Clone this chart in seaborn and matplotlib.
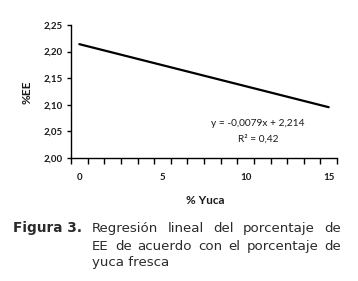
import numpy as np
import pandas as pd
import seaborn as sns
import matplotlib.pyplot as plt

# data (trendline end points)
yuca = [0, 15]
ee = [2.214, 2.0955]
y_ticks = [2.00, 2.05, 2.10, 2.15, 2.20, 2.25]
x_labels = [0, 5, 10, 15]
equation = "y = -0,0079x + 2,214"
r2 = "R² = 0,42"
caption_lines = ["Regresión lineal del porcentaje de",
                 "EE de acuerdo con el porcentaje de",
                 "yuca fresca"]

sns.set_style("ticks")
plt.rcParams['font.family'] = ['Lato', 'DejaVu Sans']

df = pd.DataFrame({'Yuca': yuca, 'EE': ee})

fig = plt.figure(figsize=(3.58, 2.81), dpi=100)
ax = fig.add_axes([71 / 358, 1 - 158 / 281, 266 / 358, 133 / 281])

sns.lineplot(data=df, x='Yuca', y='EE', ax=ax, color='black', linewidth=1.6)

ax.set_xlim(-0.5, 15.5)
ax.set_ylim(2.0, 2.25)
ax.set_yticks(y_ticks)
ax.set_yticklabels([f"{v:.2f}".replace('.', ',') for v in y_ticks],
                   fontsize=7, fontweight='bold', color='#1a1a1a')
# category style axis: tick marks between categories, labels every 5
ax.set_xticks(np.arange(-0.5, 16, 1))
ax.set_xticklabels([])
ax.set_xticks(x_labels, minor=True)
ax.set_xticklabels([str(v) for v in x_labels], minor=True,
                   fontsize=7, fontweight='bold', color='#1a1a1a')
ax.tick_params(axis='x', which='minor', length=0, pad=11)
ax.tick_params(axis='x', which='major', length=4, width=1, color='black')
ax.tick_params(axis='y', which='major', length=3, width=1, color='black', pad=3)
for s in ['left', 'bottom']:
    ax.spines[s].set_color('black')
    ax.spines[s].set_linewidth(1)
sns.despine(ax=ax)

ax.set_xlabel('')
ax.set_ylabel('')
fig.text(27 / 358, 1 - 92 / 281, '%EE', rotation=90, ha='center', va='center',
         fontsize=8.5, fontweight='bold', color='#1a1a1a')
fig.text(205 / 358, 1 - 200 / 281, '% Yuca', ha='center', va='center',
         fontsize=8.5, fontweight='bold', color='#1a1a1a')

ax.text(10.75, 2.064, equation, ha='center', va='center', fontsize=7.3, color='#1a1a1a')
ax.text(10.75, 2.036, r2, ha='center', va='center', fontsize=7.3, color='#1a1a1a')

# caption
cap_color = '#2b2b2b'
fig.text(13 / 358, 1 - 232 / 281, 'Figura 3.', ha='left', va='baseline',
         fontsize=9.8, fontweight='bold', color=cap_color, family='DejaVu Sans')
renderer = fig.canvas.get_renderer()
x0, x1 = 92, 341
ys = [232, 250, 266]
for i, line in enumerate(caption_lines):
    yf = 1 - ys[i] / 281
    words = line.split()
    if i == len(caption_lines) - 1:
        fig.text(x0 / 358, yf, line, ha='left', va='baseline', fontsize=9.6,
                 color=cap_color, family='DejaVu Sans')
        continue
    texts = [fig.text(0, yf, w, ha='left', va='baseline', fontsize=9.6,
                      color=cap_color, family='DejaVu Sans') for w in words]
    widths = [t.get_window_extent(renderer).width for t in texts]
    gap = (x1 - x0 - sum(widths)) / (len(words) - 1)
    x = x0
    for t, w in zip(texts, widths):
        t.set_x(x / 358)
        x += w + gap

fig.savefig('out.png', dpi=100)
